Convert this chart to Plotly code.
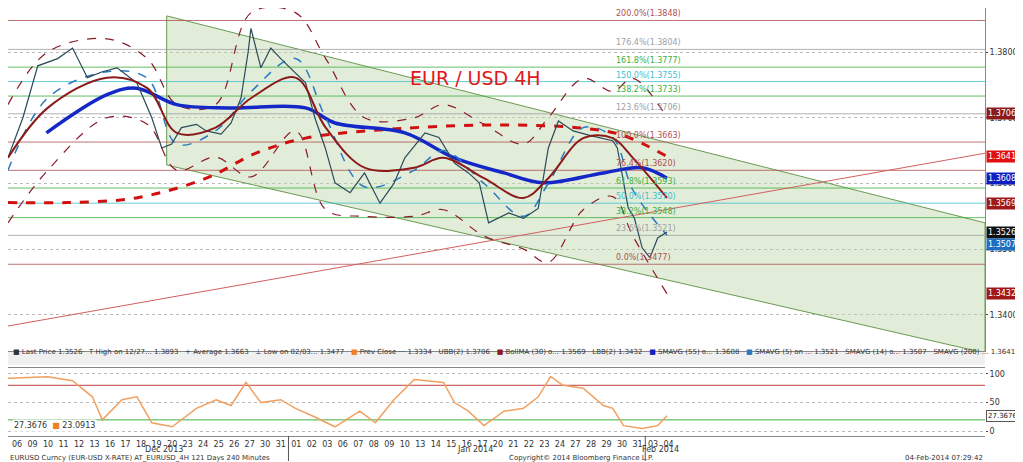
import plotly.graph_objects as go

W, H = 1023, 462
day_labels = ["06","09","10","11","12","13","16","17","18","19","20","23","24","25","26","27","30","31",
              "01","02","03","06","07","08","09","10","13","14","15","16","17","20","21","22","23","24","27","28","29","30","31",
              "03","04"]
day_idx = list(range(len(day_labels)))

px_days = [-0.58,0.38,1.34,2.62,3.58,4.54,5.5,6.45,7.73,8.69,9.33,9.97,10.6,11.57,12.2,13.16,13.8,14.44,14.9,15.08,
           15.72,16.36,17.0,17.6,18.6,19.2,19.87,20.5,21.47,22.4,23.4,24.3,25.0,26.3,27.2,28.2,29.1,29.8,30.4,31.7,
           32.65,33.6,34.25,34.9,35.85,37.1,38.4,38.7,39.4,39.8,40.3,40.8,41.3,41.9]
px_close = [1.3639,1.3700,1.3779,1.3790,1.3806,1.3761,1.3770,1.3776,1.3753,1.3700,1.3654,1.3660,1.3685,1.3690,1.3680,
            1.3675,1.3692,1.3730,1.3800,1.3836,1.3776,1.3806,1.3790,1.3776,1.3753,1.3700,1.3654,1.3601,1.3586,1.3616,
            1.3570,1.3600,1.3639,1.3677,1.3670,1.3631,1.3616,1.3601,1.3540,1.3555,1.3547,1.3562,1.3654,1.3695,1.3680,
            1.3672,1.3665,1.3654,1.3563,1.3547,1.3502,1.3487,1.3517,1.3526]

ma_days = [-0.58,1.98,5.8,8.4,10.3,12.8,15.1,17.95,19.9,22.4,25.6,27.5,30.1,32.65,34.25,36.5,38.4,39.7,41.9]
ma30 = [1.3639,1.3715,1.3761,1.3745,1.3677,1.3685,1.3730,1.3761,1.3685,1.3624,1.3624,1.3639,1.3608,1.3578,1.3608,1.3669,1.3669,1.3639,1.3578]
sma14 = [1.3620,1.3730,1.3770,1.3760,1.3660,1.3680,1.3740,1.3790,1.3700,1.3595,1.3620,1.3650,1.3600,1.3550,1.3600,1.3685,1.3670,1.3590,1.3521]
bb_up = [1.3720,1.3800,1.3820,1.3790,1.3720,1.3720,1.3860,1.3860,1.3790,1.3700,1.3700,1.3720,1.3690,1.3660,1.3700,1.3760,1.3740,1.3760,1.3700]
bb_dn = [1.3540,1.3620,1.3700,1.3690,1.3620,1.3640,1.3610,1.3680,1.3560,1.3550,1.3550,1.3560,1.3520,1.3500,1.3480,1.3560,1.3580,1.3520,1.3432]

sma55_days = [1.9,5.8,7.7,10.3,13.8,18.6,20.5,25.0,28.2,31.4,33.9,37.8,40.3,41.9]
sma55 = [1.3677,1.3735,1.3745,1.3720,1.3715,1.3715,1.3692,1.3677,1.3639,1.3616,1.3601,1.3616,1.3624,1.3608]
sma200_days = [-0.58,3.26,7.7,12.2,15.4,18.6,25.0,31.4,36.5,39.1,41.9]
sma200 = [1.3571,1.3571,1.3578,1.3608,1.3646,1.3669,1.3684,1.3689,1.3684,1.3673,1.3641]

rsi_days = [-0.58,1.98,3.58,4.86,5.5,6.77,7.73,8.69,10.0,11.57,12.84,13.8,14.76,15.72,17.0,17.95,19.2,20.5,22.1,23.1,24.3,25.6,27.5,28.2,29.1,30.1,31.4,32.65,33.6,34.4,35.2,36.5,37.8,38.4,39.1,40.3,41.3,41.9]
rsi = [92,95,88,60,20,55,60,15,8,40,55,45,85,50,55,40,25,8,35,15,55,90,85,50,35,10,35,40,60,95,80,75,45,40,10,5,10,27]

fib_lv = [1.3848,1.3804,1.3777,1.3755,1.3733,1.3706,1.3663,1.3620,1.3593,1.3570,1.3548,1.3521,1.3477]
fib_pct = ["200.0%","176.4%","161.8%","150.0%","138.2%","123.6%","100.0%","76.4%","61.8%","50.0%","38.2%","23.6%","0.0%"]
fib_col = ["#b05050","#a0a0a0","#40b040","#40c0d0","#40b040","#a0a0a0","#b05050","#b05050","#40b040","#40c0d0","#40b040","#a0a0a0","#b05050"]

chan_days = [9.65, 62.4]
chan_top = [1.3855, 1.3540]
chan_bot = [1.3628, 1.3342]
trend_days = [-0.58, 62.4]
trend_px = [1.3383, 1.3646]

badges = [(1.3706,"#8b1a1a"),(1.3641,"#e01010"),(1.3608,"#1020c0"),(1.3569,"#a01818"),(1.3526,"#101010"),(1.3507,"#1f6fc0"),(1.3432,"#a01818")]

fig = go.Figure()
X0, X1 = -0.58, 62.4
fig.add_trace(go.Scatter(x=[chan_days[0],chan_days[1],chan_days[1],chan_days[0],chan_days[0]],
    y=[chan_top[0],chan_top[1],chan_bot[1],chan_bot[0],chan_top[0]], fill="toself",
    fillcolor="rgba(190,215,170,0.45)", line=dict(color="#6a9a50", width=1), mode="lines", hoverinfo="skip"))
for lv, c in zip(fib_lv, fib_col):
    fig.add_trace(go.Scatter(x=[X0, X1], y=[lv, lv], mode="lines", line=dict(color=c, width=1), opacity=0.8, hoverinfo="skip"))
for lv, p, c in zip(fib_lv, fib_pct, fib_col):
    fig.add_annotation(x=38.5, y=lv, text=f"{p}({lv:.4f})", showarrow=False, xanchor="left", yanchor="bottom",
                       font=dict(size=8, color=c, family="DejaVu Sans"))
fig.add_trace(go.Scatter(x=trend_days, y=trend_px, mode="lines", line=dict(color="#d06060", width=1)))
fig.add_trace(go.Scatter(x=ma_days, y=bb_up, mode="lines", line=dict(color="#8b1a2a", width=1.2, dash="dash", shape="spline")))
fig.add_trace(go.Scatter(x=ma_days, y=bb_dn, mode="lines", line=dict(color="#8b1a2a", width=1.2, dash="dash", shape="spline")))
fig.add_trace(go.Scatter(x=sma200_days, y=sma200, mode="lines", line=dict(color="#d01010", width=3, dash="dash", shape="spline")))
fig.add_trace(go.Scatter(x=sma55_days, y=sma55, mode="lines", line=dict(color="#1428c8", width=3.5, shape="spline")))
fig.add_trace(go.Scatter(x=ma_days, y=sma14, mode="lines", line=dict(color="#2a7ac0", width=1.5, dash="dash", shape="spline")))
fig.add_trace(go.Scatter(x=px_days, y=px_close, mode="lines", line=dict(color="#2a4a5a", width=1.2)))
fig.add_trace(go.Scatter(x=ma_days, y=ma30, mode="lines", line=dict(color="#8b1a1a", width=2, shape="spline")))

for lv, c in [(80,"#c04040"),(20,"#40b040")]:
    fig.add_trace(go.Scatter(x=[X0, X1], y=[lv, lv], mode="lines", line=dict(color=c, width=1), xaxis="x2", yaxis="y2"))
fig.add_trace(go.Scatter(x=rsi_days, y=rsi, mode="lines", line=dict(color="#f0a060", width=1.5), xaxis="x2", yaxis="y2"))

for lv, c in badges:
    fig.add_annotation(x=1.0, xref="paper", y=lv, yref="y", text=f"{lv:.4f}", showarrow=False, xanchor="left",
                       xshift=1, bgcolor=c, font=dict(size=8, color="white", family="DejaVu Sans"), borderpad=1)
fig.add_annotation(x=1.0, xref="paper", y=27.37, yref="y2", text="27.3676", showarrow=False, xanchor="left", xshift=1,
                   bgcolor="white", bordercolor="#555", font=dict(size=7, color="#222"))
fig.add_annotation(x=0.004, xref="paper", y=10, yref="y2", text="27.3676  <span style='color:#f08020'>■</span> 23.0913",
                   showarrow=False, xanchor="left", font=dict(size=8, color="#333"), bgcolor="white")

fig.add_annotation(x=490/W, xref="paper", y=1-57/H, yref="paper", text="EUR / USD 4H", showarrow=False,
                   font=dict(size=19, color="#e01818", family="DejaVu Sans"))
legend_txt = ("■ Last Price 1.3526   T High on 12/27... 1.3893   + Average 1.3663   ⊥ Low on 02/03... 1.3477   "
              "<span style='color:#f08020'>■</span> Prev Close ··· 1.3334   UBB(2) 1.3706   <span style='color:#8b1a1a'>■</span> BollMA (30) o... 1.3569   "
              "LBB(2) 1.3432   <span style='color:#1020c0'>■</span> SMAVG (55) o... 1.3608   <span style='color:#2a7ac0'>■</span> SMAVG (5) on ... 1.3521   "
              "SMAVG (14) o... 1.3507   SMAVG (200) ... 1.3641")
fig.add_annotation(x=0.003, xref="paper", y=1-350/H, yref="paper", text=legend_txt, showarrow=False, xanchor="left",
                   font=dict(size=7, color="#333", family="DejaVu Sans"))
fig.add_shape(type="rect", xref="paper", yref="paper", x0=0, x1=1, y0=1-357/H, y1=1-343/H,
              fillcolor="#f0f0f0", line=dict(width=0), layer="below")
for t, xv in [("Dec 2013", 9.5), ("Jan 2014", 29.5), ("Feb 2014", 41.5)]:
    fig.add_annotation(x=xv, xref="x2", y=1-448/H, yref="paper", text=t, showarrow=False, font=dict(size=8, color="#333"))
for xv in [17.5, 40.5]:
    fig.add_shape(type="line", xref="x2", yref="paper", x0=xv, x1=xv, y0=1-453/H, y1=1-428/H, line=dict(color="#555", width=1))
fig.add_annotation(x=0, xref="paper", y=1-456/H, yref="paper", text="EURUSD Curncy (EUR-USD X-RATE) AT_EURUSD_4H 121 Days 240 Minutes",
                   showarrow=False, xanchor="left", font=dict(size=7, color="#333"))
fig.add_annotation(x=600/W, xref="paper", y=1-456/H, yref="paper", text="Copyright© 2014 Bloomberg Finance L.P.",
                   showarrow=False, font=dict(size=7, color="#333"))
fig.add_annotation(x=1, xref="paper", y=1-456/H, yref="paper", text="04-Feb-2014 07:29:42",
                   showarrow=False, xanchor="right", font=dict(size=7, color="#333"))

fig.update_layout(
    width=W, height=H, margin=dict(l=0, r=46, t=0, b=0), showlegend=False,
    paper_bgcolor="white", plot_bgcolor="white", font=dict(family="DejaVu Sans"),
    xaxis=dict(range=[X0, X1], domain=[0, 1], anchor="y", showticklabels=False, showgrid=False, zeroline=False,
               showline=True, linecolor="#888", mirror=True),
    yaxis=dict(range=[1.3345, 1.3867], domain=[1-343/H, 1], side="right", tickvals=[1.34, 1.35, 1.36, 1.37, 1.38],
               tickformat=".4f", gridcolor="#bbb", griddash="dot", tickfont=dict(size=8, color="#333"),
               showline=True, linecolor="#888", ticks="outside", ticklen=2, zeroline=False),
    xaxis2=dict(range=[X0, X1], domain=[0, 1], anchor="y2", tickvals=day_idx, ticktext=day_labels, tickangle=0,
                tickfont=dict(size=8, color="#333"), ticklen=0, showgrid=False, zeroline=False, showline=True, linecolor="#888", mirror=True),
    yaxis2=dict(range=[-8, 110], domain=[1-428/H, 1-360/H], side="right", tickvals=[0, 50, 100],
                gridcolor="#bbb", griddash="dot", tickfont=dict(size=8, color="#333"), ticks="outside", ticklen=2, zeroline=False),
)
fig.write_html("out.html")
